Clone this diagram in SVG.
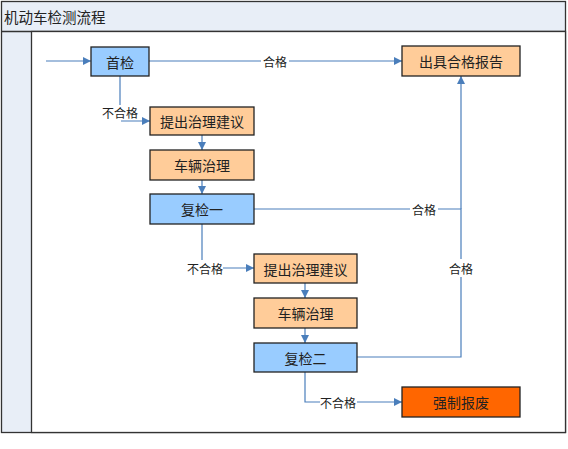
<svg xmlns="http://www.w3.org/2000/svg" width="568" height="449" viewBox="0 0 568 449">
<style>
.frame{fill:#E8EEF7;stroke:#333;stroke-width:1.3}
.lane{fill:#fff;stroke:#333;stroke-width:1.3}
.n rect{stroke:#222;stroke-width:1.3}
.o{fill:#FFCC99}.b{fill:#99CCFF}.r{fill:#FF6600}
text{font-family:"Noto Sans CJK SC","Liberation Sans",sans-serif;fill:#222}
.n text{font-size:14px;text-anchor:middle;dominant-baseline:central}
.lbl{font-size:12px;text-anchor:middle;dominant-baseline:central}
.c path{fill:none;stroke:#4A7EBB;stroke-width:1.2}
</style>
<defs>
<marker id="ah" viewBox="0 0 10 10" refX="10" refY="5" markerWidth="8" markerHeight="8" markerUnits="userSpaceOnUse" orient="auto">
<path d="M0,0 L10,5 L0,10 z" fill="#4A7EBB"/>
</marker>
</defs>
<rect x="0" y="0" width="568" height="449" fill="#fff"/>
<g id="pool">
<rect class="frame" x="1.5" y="1.5" width="564" height="431"/>
<line x1="1.5" y1="31.5" x2="565.5" y2="31.5" stroke="#333" stroke-width="1.3"/>
<rect class="lane" x="31.5" y="31.5" width="534" height="401"/>
<text x="4" y="16" font-size="14.5" dominant-baseline="central">机动车检测流程</text>
</g>
<g class="c" id="connectors">
<path d="M46,61 H91" marker-end="url(#ah)"/>
<path d="M149,61 H261 M289,61 H402" marker-end="url(#ah)"/>
<path d="M120,76 V105 M121,121 H150" marker-end="url(#ah)"/>
<path d="M202,135 V150" marker-end="url(#ah)"/>
<path d="M202,180 V194" marker-end="url(#ah)"/>
<path d="M254,209 H410 M438,209 H461 V259 M461,277 V357 H357"/>
<path d="M461,209 V76" marker-end="url(#ah)"/>
<path d="M202,224 V260 M223,268 H254" marker-end="url(#ah)"/>
<path d="M305,283 V298" marker-end="url(#ah)"/>
<path d="M305,328 V343" marker-end="url(#ah)"/>
<path d="M305,372 V402 H320 M357,402 H402" marker-end="url(#ah)"/>
<text class="lbl" x="275" y="61">合格</text>
<text class="lbl" x="120" y="112">不合格</text>
<text class="lbl" x="424" y="209">合格</text>
<text class="lbl" x="461" y="268">合格</text>
<text class="lbl" x="205" y="268">不合格</text>
<text class="lbl" x="338" y="402">不合格</text>
</g>
<g class="n" id="first"><rect class="b" x="91" y="47" width="58" height="29"/><text x="120" y="61.5">首检</text></g>
<g class="n" id="report"><rect class="o" x="402" y="46" width="118" height="30"/><text x="461" y="61">出具合格报告</text></g>
<g class="n" id="advice1"><rect class="o" x="150" y="107" width="104" height="28"/><text x="202" y="121">提出治理建议</text></g>
<g class="n" id="fix1"><rect class="o" x="150" y="150" width="104" height="30"/><text x="202" y="165">车辆治理</text></g>
<g class="n" id="recheck1"><rect class="b" x="150" y="194" width="104" height="30"/><text x="202" y="209">复检一</text></g>
<g class="n" id="advice2"><rect class="o" x="254" y="254" width="103" height="29"/><text x="305.5" y="268.5">提出治理建议</text></g>
<g class="n" id="fix2"><rect class="o" x="254" y="298" width="103" height="30"/><text x="305.5" y="313">车辆治理</text></g>
<g class="n" id="recheck2"><rect class="b" x="254" y="343" width="103" height="29"/><text x="305.5" y="357.5">复检二</text></g>
<g class="n" id="scrap"><rect class="r" x="402" y="387" width="118" height="30"/><text x="461" y="402">强制报废</text></g>
</svg>
